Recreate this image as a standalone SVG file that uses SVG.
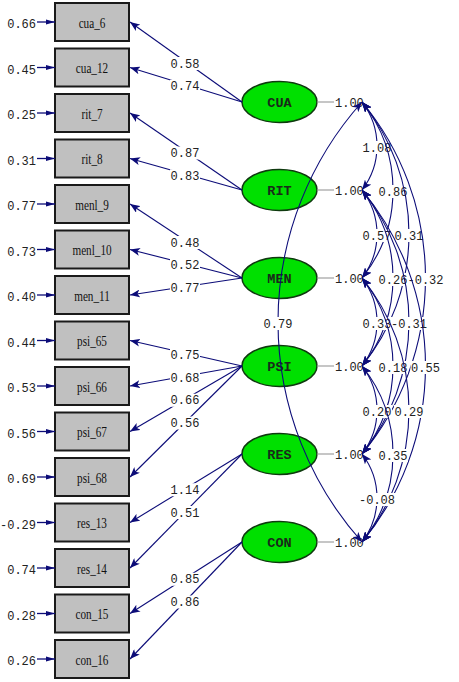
<svg xmlns="http://www.w3.org/2000/svg" width="459" height="682" viewBox="0 0 459 682">
<defs>
<style>
.box{fill:#c0c0c0;stroke:#1a1a1a;stroke-width:2}
.lat{fill:#00e000;stroke:#0f3a0f;stroke-width:1.5}
.bt{font-family:"Liberation Serif",serif;font-size:14px;fill:#111;text-anchor:middle}
.lt{font-family:"Liberation Mono",monospace;font-size:13.5px;font-weight:bold;fill:#1a2a1a;text-anchor:middle}
.num{font-family:"Liberation Mono",monospace;font-size:12px;fill:#222}
.c{text-anchor:middle}
.e{text-anchor:end}
.ld{fill:none;stroke:#0c0c78;stroke-width:1.1;marker-end:url(#ah)}
.er{fill:none;stroke:#0c0c78;stroke-width:1.3;marker-end:url(#eh)}
.cv{fill:none;stroke:#0c0c78;stroke-width:1.1;marker-start:url(#ah);marker-end:url(#ah)}
.vr{stroke:#a0a0a0;stroke-width:1.2}
.bg{fill:#fff}
</style>
<marker id="ah" viewBox="0 0 10 8" refX="10" refY="4" markerWidth="10" markerHeight="8" markerUnits="userSpaceOnUse" orient="auto-start-reverse">
<path d="M0,0 L10,4 L0,8 L2.5,4 z" fill="#0c0c78"/>
</marker>
<marker id="eh" viewBox="0 0 9 6" refX="9" refY="3" markerWidth="9" markerHeight="6" markerUnits="userSpaceOnUse" orient="auto">
<path d="M0,0.5 L9,3 L0,5.5 z" fill="#0c0c78"/>
</marker>
</defs>
<rect width="459" height="682" fill="#fff"/>

<g id="nodes">
<g id="cua_6"><rect class="box" x="55" y="3" width="74" height="38"/><text class="bt" transform="translate(92 27.5) scale(0.8 1)">cua_6</text></g>
<g id="cua_12"><rect class="box" x="55" y="48.5" width="74" height="38"/><text class="bt" transform="translate(92 73) scale(0.8 1)">cua_12</text></g>
<g id="rit_7"><rect class="box" x="55" y="94" width="74" height="38"/><text class="bt" transform="translate(92 118.5) scale(0.8 1)">rit_7</text></g>
<g id="rit_8"><rect class="box" x="55" y="139.5" width="74" height="38"/><text class="bt" transform="translate(92 164) scale(0.8 1)">rit_8</text></g>
<g id="menl_9"><rect class="box" x="55" y="185" width="74" height="38"/><text class="bt" transform="translate(92 209.5) scale(0.8 1)">menl_9</text></g>
<g id="menl_10"><rect class="box" x="55" y="230.5" width="74" height="38"/><text class="bt" transform="translate(92 255) scale(0.8 1)">menl_10</text></g>
<g id="men_11"><rect class="box" x="55" y="276" width="74" height="38"/><text class="bt" transform="translate(92 300.5) scale(0.8 1)">men_11</text></g>
<g id="psi_65"><rect class="box" x="55" y="321.5" width="74" height="38"/><text class="bt" transform="translate(92 346) scale(0.8 1)">psi_65</text></g>
<g id="psi_66"><rect class="box" x="55" y="367" width="74" height="38"/><text class="bt" transform="translate(92 391.5) scale(0.8 1)">psi_66</text></g>
<g id="psi_67"><rect class="box" x="55" y="412.5" width="74" height="38"/><text class="bt" transform="translate(92 437) scale(0.8 1)">psi_67</text></g>
<g id="psi_68"><rect class="box" x="55" y="458" width="74" height="38"/><text class="bt" transform="translate(92 482.5) scale(0.8 1)">psi_68</text></g>
<g id="res_13"><rect class="box" x="55" y="503.5" width="74" height="38"/><text class="bt" transform="translate(92 528) scale(0.8 1)">res_13</text></g>
<g id="res_14"><rect class="box" x="55" y="549" width="74" height="38"/><text class="bt" transform="translate(92 573.5) scale(0.8 1)">res_14</text></g>
<g id="con_15"><rect class="box" x="55" y="594.5" width="74" height="38"/><text class="bt" transform="translate(92 619) scale(0.8 1)">con_15</text></g>
<g id="con_16"><rect class="box" x="55" y="640" width="74" height="38"/><text class="bt" transform="translate(92 664.5) scale(0.8 1)">con_16</text></g>

<g id="CUA"><ellipse class="lat" cx="279.5" cy="102" rx="37.5" ry="20.5"/><text class="lt" x="279.5" y="107">CUA</text></g>
<g id="RIT"><ellipse class="lat" cx="279.5" cy="190" rx="37.5" ry="20.5"/><text class="lt" x="279.5" y="195">RIT</text></g>
<g id="MEN"><ellipse class="lat" cx="279.5" cy="278" rx="37.5" ry="20.5"/><text class="lt" x="279.5" y="283">MEN</text></g>
<g id="PSI"><ellipse class="lat" cx="279.5" cy="366" rx="37.5" ry="20.5"/><text class="lt" x="279.5" y="371">PSI</text></g>
<g id="RES"><ellipse class="lat" cx="279.5" cy="454" rx="37.5" ry="20.5"/><text class="lt" x="279.5" y="459">RES</text></g>
<g id="CON"><ellipse class="lat" cx="279.5" cy="542" rx="37.5" ry="20.5"/><text class="lt" x="279.5" y="547">CON</text></g>
</g>

<g id="connectors">
<g id="errors">
<line class="er" x1="37" y1="22" x2="55" y2="22"/><text class="num e" x="36" y="28">0.66</text>
<line class="er" x1="37" y1="67.5" x2="55" y2="67.5"/><text class="num e" x="36" y="73.5">0.45</text>
<line class="er" x1="37" y1="113" x2="55" y2="113"/><text class="num e" x="36" y="119">0.25</text>
<line class="er" x1="37" y1="158.5" x2="55" y2="158.5"/><text class="num e" x="36" y="164.5">0.31</text>
<line class="er" x1="37" y1="204" x2="55" y2="204"/><text class="num e" x="36" y="210">0.77</text>
<line class="er" x1="37" y1="249.5" x2="55" y2="249.5"/><text class="num e" x="36" y="255.5">0.73</text>
<line class="er" x1="37" y1="295" x2="55" y2="295"/><text class="num e" x="36" y="301">0.40</text>
<line class="er" x1="37" y1="340.5" x2="55" y2="340.5"/><text class="num e" x="36" y="346.5">0.44</text>
<line class="er" x1="37" y1="386" x2="55" y2="386"/><text class="num e" x="36" y="392">0.53</text>
<line class="er" x1="37" y1="431.5" x2="55" y2="431.5"/><text class="num e" x="36" y="437.5">0.56</text>
<line class="er" x1="37" y1="477" x2="55" y2="477"/><text class="num e" x="36" y="483">0.69</text>
<line class="er" x1="37" y1="522.5" x2="55" y2="522.5"/><text class="num e" x="36" y="528.5">-0.29</text>
<line class="er" x1="37" y1="568" x2="55" y2="568"/><text class="num e" x="36" y="574">0.74</text>
<line class="er" x1="37" y1="613.5" x2="55" y2="613.5"/><text class="num e" x="36" y="619.5">0.28</text>
<line class="er" x1="37" y1="659" x2="55" y2="659"/><text class="num e" x="36" y="665">0.26</text>
</g>
<g id="loadings">
<line class="ld" x1="242" y1="102" x2="130" y2="22"/><rect class="bg" x="170" y="57" width="30" height="13"/><text class="num c" x="185" y="67.5">0.58</text>
<line class="ld" x1="242" y1="102" x2="130" y2="67.5"/><rect class="bg" x="170" y="79.75" width="30" height="13"/><text class="num c" x="185" y="90.25">0.74</text>
<line class="ld" x1="242" y1="190" x2="130" y2="113"/><rect class="bg" x="170" y="146.5" width="30" height="13"/><text class="num c" x="185" y="157">0.87</text>
<line class="ld" x1="242" y1="190" x2="130" y2="158.5"/><rect class="bg" x="170" y="169.25" width="30" height="13"/><text class="num c" x="185" y="179.75">0.83</text>
<line class="ld" x1="242" y1="278" x2="130" y2="204"/><rect class="bg" x="170" y="236" width="30" height="13"/><text class="num c" x="185" y="246.5">0.48</text>
<line class="ld" x1="242" y1="278" x2="130" y2="249.5"/><rect class="bg" x="170" y="258.75" width="30" height="13"/><text class="num c" x="185" y="269.25">0.52</text>
<line class="ld" x1="242" y1="278" x2="130" y2="295"/><rect class="bg" x="170" y="281.5" width="30" height="13"/><text class="num c" x="185" y="292">0.77</text>
<line class="ld" x1="242" y1="366" x2="130" y2="340.5"/><rect class="bg" x="170" y="348.25" width="30" height="13"/><text class="num c" x="185" y="358.75">0.75</text>
<line class="ld" x1="242" y1="366" x2="130" y2="386"/><rect class="bg" x="170" y="371" width="30" height="13"/><text class="num c" x="185" y="381.5">0.68</text>
<line class="ld" x1="242" y1="366" x2="130" y2="431.5"/><rect class="bg" x="170" y="393.75" width="30" height="13"/><text class="num c" x="185" y="404.25">0.66</text>
<line class="ld" x1="242" y1="366" x2="130" y2="477"/><rect class="bg" x="170" y="416.5" width="30" height="13"/><text class="num c" x="185" y="427">0.56</text>
<line class="ld" x1="242" y1="454" x2="130" y2="522.5"/><rect class="bg" x="170" y="483.25" width="30" height="13"/><text class="num c" x="185" y="493.75">1.14</text>
<line class="ld" x1="242" y1="454" x2="130" y2="568"/><rect class="bg" x="170" y="506" width="30" height="13"/><text class="num c" x="185" y="516.5">0.51</text>
<line class="ld" x1="242" y1="542" x2="130" y2="613.5"/><rect class="bg" x="170" y="572.75" width="30" height="13"/><text class="num c" x="185" y="583.25">0.85</text>
<line class="ld" x1="242" y1="542" x2="130" y2="659"/><rect class="bg" x="170" y="595.5" width="30" height="13"/><text class="num c" x="185" y="606">0.86</text>
</g>
<g id="variances">
<line class="vr" x1="317" y1="102" x2="334" y2="102"/><text class="num" x="335" y="107">1.00</text>
<line class="vr" x1="317" y1="190" x2="334" y2="190"/><text class="num" x="335" y="195">1.00</text>
<line class="vr" x1="317" y1="278" x2="334" y2="278"/><text class="num" x="335" y="283">1.00</text>
<line class="vr" x1="317" y1="366" x2="334" y2="366"/><text class="num" x="335" y="371">1.00</text>
<line class="vr" x1="317" y1="454" x2="334" y2="454"/><text class="num" x="335" y="459">1.00</text>
<line class="vr" x1="317" y1="542" x2="334" y2="542"/><text class="num" x="335" y="547">1.00</text>
</g>
<g id="covariances">
<path class="cv" d="M362,102 A72,72 0 0,1 362,190"/><rect class="bg" x="362" y="141" width="30" height="13"/><text class="num c" x="377" y="151.5">1.08</text>
<path class="cv" d="M362,102 A140.4,140.4 0 0,1 362,278"/><rect class="bg" x="378" y="185" width="30" height="13"/><text class="num c" x="393" y="195.5">0.86</text>
<path class="cv" d="M362,190 A72,72 0 0,1 362,278"/><rect class="bg" x="362" y="229" width="30" height="13"/><text class="num c" x="377" y="239.5">0.57</text>
<path class="cv" d="M362,102 A208.9,208.9 0 0,1 362,366"/><rect class="bg" x="394" y="229" width="30" height="13"/><text class="num c" x="409" y="239.5">0.31</text>
<path class="cv" d="M362,190 A140.4,140.4 0 0,1 362,366"/><rect class="bg" x="378" y="273" width="30" height="13"/><text class="num c" x="393" y="283.5">0.26</text>
<path class="cv" d="M362,278 A72,72 0 0,1 362,366"/><rect class="bg" x="362" y="317" width="30" height="13"/><text class="num c" x="377" y="327.5">0.33</text>
<path class="cv" d="M362,102 A275.7,275.7 0 0,1 362,454"/><rect class="bg" x="407" y="273" width="37" height="13"/><text class="num c" x="425.5" y="283.5">-0.32</text>
<path class="cv" d="M362,190 A208.9,208.9 0 0,1 362,454"/><rect class="bg" x="390.5" y="317" width="37" height="13"/><text class="num c" x="409" y="327.5">-0.31</text>
<path class="cv" d="M362,278 A140.4,140.4 0 0,1 362,454"/><rect class="bg" x="378" y="361" width="30" height="13"/><text class="num c" x="393" y="371.5">0.18</text>
<path class="cv" d="M362,366 A72,72 0 0,1 362,454"/><rect class="bg" x="362" y="405" width="30" height="13"/><text class="num c" x="377" y="415.5">0.20</text>
<path class="cv" d="M362,102 A330.1,330.1 0 0,0 362,542"/><rect class="bg" x="263" y="317" width="30" height="13"/><text class="num c" x="278" y="327.5">0.79</text>
<path class="cv" d="M362,190 A275.7,275.7 0 0,1 362,542"/><rect class="bg" x="410.5" y="361" width="30" height="13"/><text class="num c" x="425.5" y="371.5">0.55</text>
<path class="cv" d="M362,278 A208.9,208.9 0 0,1 362,542"/><rect class="bg" x="394" y="405" width="30" height="13"/><text class="num c" x="409" y="415.5">0.29</text>
<path class="cv" d="M362,366 A140.4,140.4 0 0,1 362,542"/><rect class="bg" x="378" y="449" width="30" height="13"/><text class="num c" x="393" y="459.5">0.35</text>
<path class="cv" d="M362,454 A72,72 0 0,1 362,542"/><rect class="bg" x="358.5" y="493" width="37" height="13"/><text class="num c" x="377" y="503.5">-0.08</text>
</g>
</g>
</svg>
